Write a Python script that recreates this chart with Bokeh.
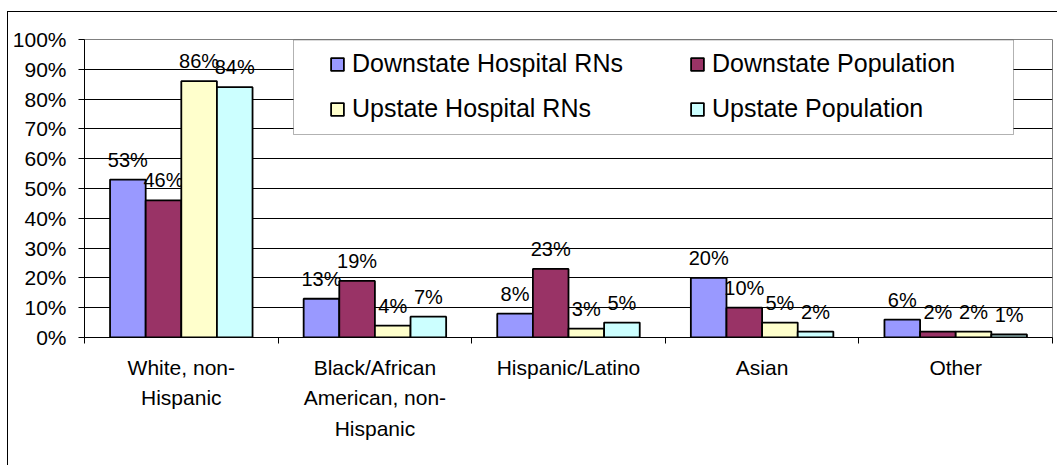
from bokeh.plotting import figure
from bokeh.models import (ColumnDataSource, Range1d, FixedTicker, Legend, LegendItem, BoxAnnotation)
from bokeh.transform import dodge
from bokeh.embed import file_html
from bokeh.resources import INLINE
from bokeh.core.properties import value

# ---------------- data ----------------
categories = ["White, non-\nHispanic",
              "Black/African\nAmerican, non-\nHispanic",
              "Hispanic/Latino",
              "Asian",
              "Other"]
series_names = ["Downstate Hospital RNs", "Downstate Population",
                "Upstate Hospital RNs", "Upstate Population"]
downstate_rns = [53, 13, 8, 20, 6]
downstate_pop = [46, 19, 23, 10, 2]
upstate_rns = [86, 4, 3, 5, 2]
upstate_pop = [84, 7, 5, 2, 1]
y_ticks = [0, 10, 20, 30, 40, 50, 60, 70, 80, 90, 100]
y_tick_labels = ["0%", "10%", "20%", "30%", "40%", "50%", "60%", "70%", "80%", "90%", "100%"]

# ---------------- style ----------------
FONT = "Liberation Sans"
series_colors = ["#9999FF", "#993366", "#FFFFCC", "#CCFFFF"]
bar_w = 0.184
offsets = [-0.276, -0.092, 0.092, 0.276]

n = len(categories)
centers = [i + 0.5 for i in range(n)]
bounds = [i for i in range(n + 1)]

src = ColumnDataSource(data=dict(
    pos=centers,
    s0=downstate_rns, s1=downstate_pop, s2=upstate_rns, s3=upstate_pop,
    l0=[f"{v}%" for v in downstate_rns],
    l1=[f"{v}%" for v in downstate_pop],
    l2=[f"{v}%" for v in upstate_rns],
    l3=[f"{v}%" for v in upstate_pop],
))

p = figure(x_range=Range1d(0, n), y_range=Range1d(0, 100),
           width=1050, height=454,
           min_border_left=76, min_border_right=6, min_border_top=27, min_border_bottom=129,
           output_backend="svg", toolbar_location=None)
# chart-area frame (Excel style), drawn as the host element's left/top border
p.styles = {"border-left": "1px solid black", "border-top": "1px solid black",
            "margin-left": "7px", "margin-top": "11px"}
p.background_fill_color = "white"
p.border_fill_color = "white"
p.outline_line_color = "#808080"
p.outline_line_width = 1

# y axis
yax = p.yaxis[0]
yax.ticker = FixedTicker(ticks=y_ticks)
yax.major_label_overrides = {t: l for t, l in zip(y_ticks, y_tick_labels)}
yax.axis_line_color = "black"
yax.major_tick_line_color = "black"
yax.major_tick_out = 6
yax.major_tick_in = 0
yax.minor_tick_line_color = None
yax.major_label_text_font = FONT
yax.major_label_text_font_size = "21px"
yax.major_label_text_color = "black"
yax.major_label_standoff = 12
p.ygrid.ticker = FixedTicker(ticks=y_ticks)
p.ygrid.grid_line_color = "black"
p.ygrid.grid_line_width = 1
p.xgrid.grid_line_color = None

# x axis: category labels at centres, tick marks at boundaries
xax = p.xaxis[0]
xax.ticker = FixedTicker(ticks=centers, minor_ticks=bounds)
xax.major_label_overrides = {c: lab for c, lab in zip(centers, categories)}
xax.axis_line_color = "black"
xax.major_tick_line_color = None
xax.major_tick_out = 0
xax.major_tick_in = 0
xax.minor_tick_line_color = "black"
xax.minor_tick_out = 6
xax.minor_tick_in = 0
xax.major_label_text_font = FONT
xax.major_label_text_font_size = "21px"
xax.major_label_text_color = "black"
xax.major_label_standoff = 12
xax.major_label_text_line_height = 1.33

# bars
renderers = []
for i in range(4):
    r = p.vbar(x=dodge("pos", offsets[i]), top=f"s{i}", width=bar_w,
               source=src, fill_color=series_colors[i], line_color="black", line_width=1.8)
    renderers.append(r)
    p.text(x=dodge("pos", offsets[i]), y=f"s{i}", text=f"l{i}", source=src,
           text_align="center", text_baseline="alphabetic", y_offset=-20,
           text_font=value(FONT), text_font_size="20px", text_color="black")

# legend box
lbox = BoxAnnotation(left=209, right=929, top=297.5, bottom=203,
                     left_units="screen", right_units="screen",
                     top_units="screen", bottom_units="screen",
                     fill_color="white", fill_alpha=1, line_color="black", line_width=1)
p.add_layout(lbox)

legend = Legend(items=[LegendItem(label=series_names[i], renderers=[renderers[i]]) for i in range(4)],
                ncols=2, location=(245, 214), orientation="horizontal",
                glyph_width=16, glyph_height=16, label_standoff=7,
                label_width=321, label_height=24, spacing=16, padding=0, margin=0,
                label_text_font=FONT, label_text_font_size="25px", label_text_color="black",
                border_line_alpha=0, background_fill_alpha=0)
p.add_layout(legend, "center")

open("out.html", "w").write(file_html(p, INLINE))
